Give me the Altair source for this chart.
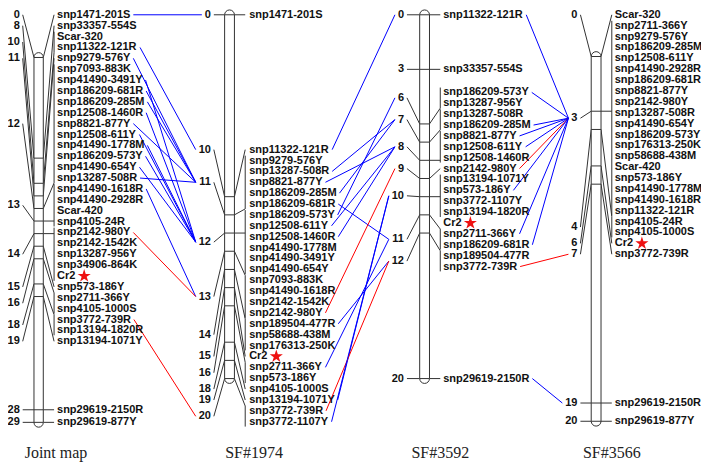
import altair as alt
import pandas as pd

# ---------------- data ----------------
MAPS = ["Joint map", "SF#1974", "SF#3592", "SF#3566"]

joint_markers = ["snp1471-201S", "snp33357-554S", "Scar-320", "snp11322-121R", "snp9279-576Y",
                 "snp7093-883K", "snp41490-3491Y", "snp186209-681R", "snp186209-285M", "snp12508-1460R",
                 "snp8821-877Y", "snp12508-611Y", "snp41490-1778M", "snp186209-573Y", "snp41490-654Y",
                 "snp13287-508R", "snp41490-1618R", "snp41490-2928R", "Scar-420", "snp4105-24R",
                 "snp2142-980Y", "snp2142-1542K", "snp13287-956Y", "snp34906-864K", "Cr2",
                 "snp573-186Y", "snp2711-366Y", "snp4105-1000S", "snp3772-739R", "snp13194-1820R",
                 "snp13194-1071Y", "snp29619-2150R", "snp29619-877Y"]
joint_cm = [0, 8, 10, 10, 11,
            12, 12, 12, 12, 12,
            12, 12, 12, 12, 12,
            12, 13, 13, 13, 13,
            14, 14, 14, 14, 14,
            15, 16, 16, 18, 18,
            19, 28, 29]

sf1974_markers = ["snp1471-201S", "snp11322-121R", "snp9279-576Y", "snp13287-508R", "snp8821-877Y",
                  "snp186209-285M", "snp186209-681R", "snp186209-573Y", "snp12508-611Y", "snp12508-1460R",
                  "snp41490-1778M", "snp41490-3491Y", "snp41490-654Y", "snp7093-883K", "snp41490-1618R",
                  "snp2142-1542K", "snp2142-980Y", "snp189504-477R", "snp58688-438M", "snp176313-250K",
                  "Cr2", "snp2711-366Y", "snp573-186Y", "snp4105-1000S", "snp13194-1071Y",
                  "snp3772-739R", "snp3772-1107Y"]
sf1974_cm = [0, 10, 11, 11, 11,
             11, 11, 12, 12, 12,
             12, 12, 12, 13, 13,
             13, 13, 14, 14, 14,
             15, 16, 16, 18, 19,
             20, 20]

sf3592_markers = ["snp11322-121R", "snp33357-554S", "snp186209-573Y", "snp13287-956Y", "snp13287-508R",
                  "snp186209-285M", "snp8821-877Y", "snp12508-611Y", "snp12508-1460R", "snp2142-980Y",
                  "snp13194-1071Y", "snp573-186Y", "snp3772-1107Y", "snp13194-1820R", "Cr2",
                  "snp2711-366Y", "snp186209-681R", "snp189504-477R", "snp3772-739R", "snp29619-2150R"]
sf3592_cm = [0, 3, 6, 6, 7,
             7, 8, 8, 8, 9,
             10, 10, 10, 10, None,
             11, 11, 12, 12, 20]

sf3566_markers = ["Scar-320", "snp2711-366Y", "snp9279-576Y", "snp186209-285M", "snp12508-611Y",
                  "snp41490-2928R", "snp186209-681R", "snp8821-877Y", "snp2142-980Y", "snp13287-508R",
                  "snp41490-654Y", "snp186209-573Y", "snp176313-250K", "snp58688-438M", "Scar-420",
                  "snp573-186Y", "snp41490-1778M", "snp41490-1618R", "snp11322-121R", "snp4105-24R",
                  "snp4105-1000S", "Cr2", "snp3772-739R", "snp29619-2150R", "snp29619-877Y"]
sf3566_cm = [0, 3, 3, 3, 3,
             3, 3, 3, 3, 3,
             3, 3, 3, 3, 3,
             3, 3, 3, 3, 4,
             4, 6, 7, 19, 20]

# markers linked between neighbouring maps (red = flanking markers of Cr2)
links_j_1974 = ["snp1471-201S", "snp11322-121R", "snp9279-576Y", "snp186209-681R", "snp186209-285M",
                "snp8821-877Y", "snp13287-508R", "snp12508-1460R", "snp12508-611Y", "snp41490-1778M",
                "snp186209-573Y", "snp41490-654Y", "snp41490-3491Y", "snp41490-1618R",
                "snp2142-980Y", "snp3772-739R"]
links_1974_3592 = ["snp11322-121R", "snp13287-508R", "snp8821-877Y", "snp186209-285M", "snp186209-681R",
                   "snp186209-573Y", "snp12508-611Y", "snp12508-1460R", "snp2142-980Y", "snp189504-477R",
                   "snp2711-366Y", "snp13194-1071Y", "snp3772-739R", "snp3772-1107Y"]
links_3592_3566 = ["snp11322-121R", "snp186209-573Y", "snp186209-285M", "snp8821-877Y", "snp12508-611Y",
                   "snp2142-980Y", "snp573-186Y", "snp2711-366Y", "snp186209-681R", "snp3772-739R",
                   "snp29619-2150R"]
red_markers = ["snp2142-980Y", "snp3772-739R"]

# ---------------- layout (reference-picture pixels) ----------------
ROW = 11.22
LAYOUT = {
    "Joint map": dict(markers=joint_markers, cm=joint_cm, num_right=13, bar_l=27.5, bar_r=37,
                      bracket=48, lab_x=51, y0=51, ppc=12.97, title_x=50,
                      blocks={0: 7, 31: "bar", 32: "bar"}),
    "SF#1974": dict(markers=sf1974_markers, cm=sf1974_cm, num_right=208, bar_l=222, bar_r=232,
                    bracket=243, lab_x=247, y0=7, ppc=18.75, title_x=252,
                    blocks={0: 7, 1: 146}),
    "SF#3592": dict(markers=sf3592_markers, cm=sf3592_cm, num_right=405, bar_l=421, bar_r=431,
                    bracket=442, lab_x=445, y0=7, ppc=18.75, title_x=442,
                    blocks={0: 7, 1: "bar", 2: 87, 19: "bar"}),
    "SF#3566": dict(markers=sf3566_markers, cm=sf3566_cm, num_right=582, bar_l=596, bar_r=606,
                    bracket=617, lab_x=620, y0=50, ppc=18.8, title_x=617,
                    blocks={0: 7, 23: "bar", 24: "bar"}),
}

W = {"s": 556, "n": 611, "p": 611, "-": 333, "S": 667, "R": 722, "Y": 667, "M": 833, "K": 722,
     "C": 722, "r": 389, "c": 556, "a": 556}
XS = 693 / 707.0   # picture-pixel -> screen compression, x
YS = 454 / 468.0   # picture-pixel -> screen compression, y


def tw(s, size=11):
    # text width in reference-frame pixels
    return sum(W.get(ch, 556) for ch in s) * size / 1000.0 / XS


bars, ticks, conns, brackets, nums, labs, stars, titles = [], [], [], [], [], [], [], []
info = {}
for m in MAPS:
    L = LAYOUT[m]
    yb = lambda c, L=L: L["y0"] + L["ppc"] * c
    mk, cm = L["markers"], L["cm"]
    ly = []
    for i, c in enumerate(cm):
        b = L["blocks"].get(i)
        if b == "bar":
            ly.append(yb(c))
        elif b is not None:
            ly.append(b)
        else:
            ly.append(ly[-1] + ROW)
    maxcm = max(c for c in cm if c is not None)
    bars.append(dict(x=L["bar_l"], x2=L["bar_r"], y=yb(0) - 5, y2=yb(maxcm) + 5))
    groups = {}
    for i, c in enumerate(cm):
        if c is not None:
            groups.setdefault(c, []).append(i)
    centers = {}
    for c, idx in groups.items():
        ys = [ly[i] for i in idx]
        ctr = (min(ys) + max(ys)) / 2
        centers[c] = ctr
        nums.append(dict(x=L["num_right"], y=ctr, t=str(c)))
        conns.append(dict(x=L["num_right"] + 3, y=ctr, x2=L["bar_l"], y2=yb(c)))
        ticks.append(dict(x=L["bar_l"], x2=L["bar_r"], y=yb(c), y2=yb(c)))
        if len(idx) > 1:
            top, bot = min(ys) - 5, max(ys) + 5
            brackets.append(dict(x=L["bracket"], x2=L["bracket"], y=top, y2=bot))
            end = min(max(yb(c), top), bot)
        else:
            end = ys[0]
        conns.append(dict(x=L["bar_r"], y=yb(c), x2=L["bracket"], y2=end))
    for i, name in enumerate(mk):
        labs.append(dict(x=L["lab_x"], y=ly[i], t=name))
        if name == "Cr2":
            stars.append(dict(x=L["lab_x"] + tw(name) + 9, y=ly[i]))
    titles.append(dict(x=L["title_x"], y=459, t=m))
    info[m] = dict(ly={n: ly[i] for i, n in enumerate(mk)},
                   cmof={n: cm[i] for i, n in enumerate(mk)}, centers=centers)

links = []
for a, b, names in [("Joint map", "SF#1974", links_j_1974), ("SF#1974", "SF#3592", links_1974_3592),
                    ("SF#3592", "SF#3566", links_3592_3566)]:
    for n in names:
        cb = info[b]["cmof"][n]
        links.append(dict(x=LAYOUT[a]["lab_x"] + tw(n) + 3, y=info[a]["ly"][n],
                          x2=LAYOUT[b]["num_right"] - tw(str(cb)) - 3, y2=info[b]["centers"][cb],
                          col="#ff0000" if n in red_markers else "#0000ff"))

# ---------------- chart ----------------
X = alt.Scale(domain=[1, 708])
Y = alt.Scale(domain=[0, 468], reverse=True)
GRAY = "#333333"


def xy(two=True):
    e = dict(x=alt.X("x:Q", scale=X, axis=None), y=alt.Y("y:Q", scale=Y, axis=None))
    if two:
        e.update(x2="x2:Q", y2="y2:Q")
    return e


bar_l = alt.Chart(pd.DataFrame(bars)).mark_rect(cornerRadius=5, fill="white", stroke=GRAY,
                                                 strokeWidth=1).encode(**xy())
tick_l = alt.Chart(pd.DataFrame(ticks)).mark_rule(color=GRAY, strokeWidth=1).encode(**xy())
conn_l = alt.Chart(pd.DataFrame(conns)).mark_rule(color=GRAY, strokeWidth=1).encode(**xy())
brk_l = alt.Chart(pd.DataFrame(brackets)).mark_rule(color=GRAY, strokeWidth=1).encode(**xy())
link_l = alt.Chart(pd.DataFrame(links)).mark_rule(strokeWidth=1).encode(
    **xy(), color=alt.Color("col:N", scale=None))
num_l = alt.Chart(pd.DataFrame(nums)).mark_text(align="right", baseline="middle", font="Liberation Sans",
                                                fontWeight="bold", fontSize=11, color="#111").encode(
    **xy(False), text="t:N")
lab_l = alt.Chart(pd.DataFrame(labs)).mark_text(align="left", baseline="middle", font="Liberation Sans",
                                                fontWeight="bold", fontSize=11, color="#111").encode(
    **xy(False), text="t:N")
STAR = ("M0,-1L0.2245,-0.309L0.951,-0.309L0.363,0.118L0.588,0.809L0,0.382L-0.588,0.809"
        "L-0.363,0.118L-0.951,-0.309L-0.2245,-0.309Z")
star_l = alt.Chart(pd.DataFrame(stars)).mark_point(shape=STAR, size=190, filled=True, color="#ee1111",
                                                   opacity=1).encode(**xy(False))
title_l = alt.Chart(pd.DataFrame(titles)).mark_text(align="center", baseline="middle",
                                                    font="Liberation Serif", fontSize=16,
                                                    color="#222").encode(**xy(False), text="t:N")

chart = alt.layer(link_l, conn_l, brk_l, bar_l, tick_l, num_l, lab_l, star_l, title_l).properties(
    width=693, height=454, padding=0, autosize="none"
).configure_view(strokeWidth=0)

chart.save("out.html", embed_options={"renderer": "svg", "actions": False})
